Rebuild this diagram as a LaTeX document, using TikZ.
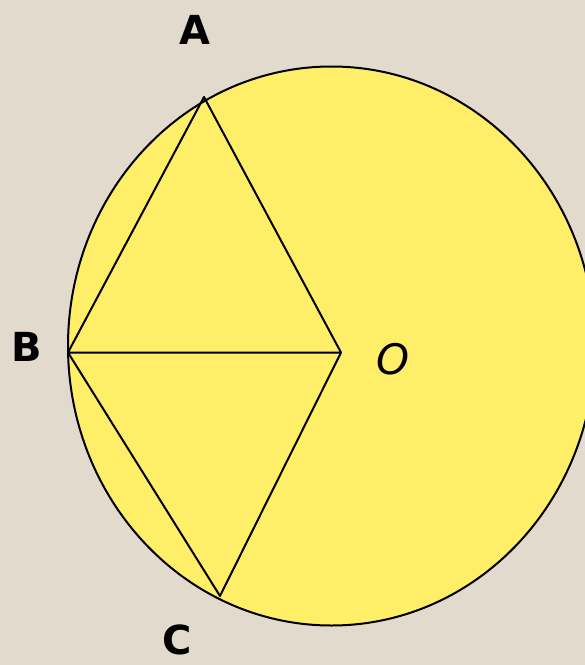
\documentclass[tikz,border=0pt]{standalone}
\usepackage{fontspec}
\setmainfont{DejaVu Sans}
\definecolor{bgbeige}{RGB}{226,218,205}
\definecolor{discyellow}{RGB}{255,238,104}
\begin{document}
\begin{tikzpicture}[x=1pt,y=-1pt,
  edge/.style={draw=black,line width=2pt,line join=round},
  lbl/.style={font=\fontsize{40}{40}\selectfont\bfseries,text=black,inner sep=0pt}]
\fill[bgbeige] (0,0) rectangle (585,665);
\useasboundingbox (0,0) rectangle (585,665);
\begin{scope}
\clip (0,0) rectangle (585,665);
\draw[fill=discyellow,draw=black,line width=2pt] (331.5,346) ellipse [x radius=263.5, y radius=279.5];
\end{scope}
\coordinate (A) at (204,97);
\coordinate (B) at (68,352.5);
\coordinate (O) at (341,352.5);
\coordinate (C) at (220,596);
\draw[edge] (B) -- (A) -- (O) -- (C) -- (B) -- (O);
\node[lbl] (lA) at (195,30) {A};
\node[lbl] (lB) at (27,347) {B};
\node[lbl,font=\fontsize{42}{42}\selectfont\itshape] (lO) at (393,359) {O};
\node[lbl] (lC) at (177,640) {C};
\end{tikzpicture}
\end{document}
